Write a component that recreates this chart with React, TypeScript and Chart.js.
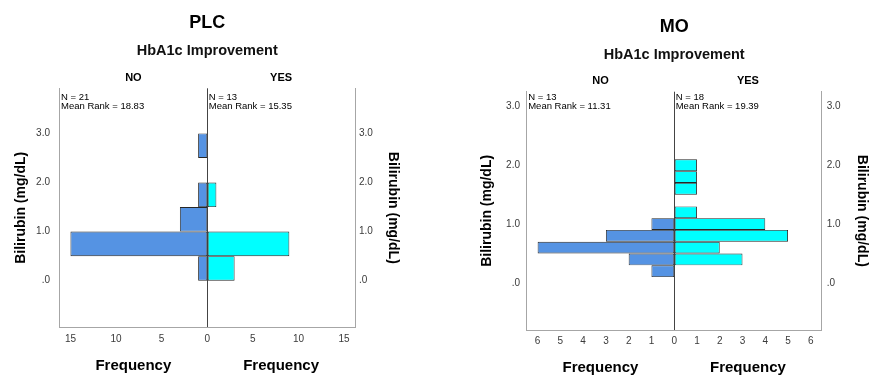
import React, { useEffect, useRef } from 'react';
import { Chart, registerables } from 'chart.js';

Chart.register(...registerables);

const FONT = "'Liberation Sans', Arial, Helvetica, sans-serif";

// ---- shared labels ----
const groups = ['NO', 'YES'];
const yTickValues = [0, 1, 2, 3];
const yTitle = 'Bilirubin (mg/dL)';
const xTitle = 'Frequency';
const subTitle = 'HbA1c Improvement';

// ---- PLC panel ----
const plcBins = [0.25, 0.75, 1.25, 1.75, 2.25, 2.75];
const plcNo = [1, 15, 3, 1, 0, 1];
const plcYes = [3, 9, 0, 1, 0, 0];
const plcFreqTicks = [0, 5, 10, 15];
const plcStatsNo = ['N = 21', 'Mean Rank = 18.83'];
const plcStatsYes = ['N = 13', 'Mean Rank = 15.35'];

// ---- MO panel ----
const moBins = [0.2, 0.4, 0.6, 0.8, 1.0, 1.2, 1.4, 1.6, 1.8, 2.0];
const moNo = [1, 2, 6, 3, 1, 0, 0, 0, 0, 0];
const moYes = [0, 3, 2, 5, 4, 1, 0, 1, 1, 1];
const moFreqTicks = [0, 1, 2, 3, 4, 5, 6];
const moStatsNo = ['N = 13', 'Mean Rank = 11.31'];
const moStatsYes = ['N = 18', 'Mean Rank = 19.39'];

const BLUE = '#5593e3';
const CYAN = '#00ffff';
const BAR_EDGE = '#262626';
const FRAME = '#a6a6a6';
const CENTER = '#444444';
const TICK = '#3a3a3a';

const panels = [
  {
    key: 'plc', title: 'PLC', left: 0, width: 430,
    bins: plcBins, no: plcNo, yes: plcYes, freqTicks: plcFreqTicks,
    stats: [plcStatsNo, plcStatsYes],
    xMax: 16.2, yMin: -0.95, yMax: 3.92,
    padLeft: 0, padRight: 28.5, leftAxisW: 59.5, rightAxisW: 46.5,
    leftTitlePad: 14, rightTitlePad: 2, leftTickPad: 9.5, rightTickPad: 4,
    titlePadTop: 12.3, subPadTop: 8.4, topAxisH: 28.6, groupPadTop: 11.7,
    bottomAxisH: 48.7, xTickPad: 6, xTitlePadBottom: 2.2, statsTop: 11.5,
  },
  {
    key: 'mo', title: 'MO', left: 430, width: 439,
    bins: moBins, no: moNo, yes: moYes, freqTicks: moFreqTicks,
    stats: [moStatsNo, moStatsYes],
    xMax: 6.48, yMin: -0.8, yMax: 3.25,
    padLeft: 50, padRight: 0, leftAxisW: 46.7, rightAxisW: 47.3,
    leftTitlePad: 0.5, rightTitlePad: 0.3, leftTickPad: 6.7, rightTickPad: 5,
    titlePadTop: 16.3, subPadTop: 8.4, topAxisH: 28, groupPadTop: 10.9,
    bottomAxisH: 46, xTickPad: 5.7, xTitlePadBottom: 0.5, statsTop: 8,
  },
];

function Panel({ cfg }: { cfg: any }) {
  const ref = useRef<HTMLCanvasElement>(null);

  useEffect(() => {
    const c = cfg;
    const mk = (vals: number[]) => c.bins.map((b: number, i: number) => ({ x: vals[i] === 0 ? null : vals[i], y: b }));
    const setFreqTicks = (axis: any) => { axis.ticks = c.freqTicks.map((v: number) => ({ value: v })); };
    const setYTicks = (axis: any) => { axis.ticks = yTickValues.map((v) => ({ value: v })); };
    const yFmt = (v: any) => (Number(v) === 0 ? '.0' : Number(v).toFixed(1));
    const tickFont = { family: FONT, size: 10 };

    const statsPlugin = {
      id: 'stats_' + c.key,
      afterDraw(chart: any) {
        const { ctx, chartArea } = chart;
        const lefts = [chart.scales.xNo.left, chart.scales.xYes.left];
        ctx.save();
        ctx.font = `9.5px ${FONT}`;
        ctx.fillStyle = '#000';
        ctx.textAlign = 'left';
        ctx.textBaseline = 'alphabetic';
        lefts.forEach((lx: number, i: number) => {
          c.stats[i].forEach((line: string, j: number) => {
            ctx.fillText(line, lx + 1.5, chartArea.top + c.statsTop + j * 9);
          });
        });
        ctx.restore();
      },
    };

    const barCommon = {
      grouped: false,
      categoryPercentage: 1,
      barPercentage: 1,
      borderWidth: 0.9,
      borderColor: BAR_EDGE,
      borderSkipped: false,
      inflateAmount: 0,
    };

    const xBottom = (reverse: boolean, showZero: boolean, centerLine: boolean) => ({
      type: 'linear',
      axis: 'x',
      position: 'bottom',
      stack: 'bottom',
      reverse,
      offset: false,
      min: 0,
      max: c.xMax,
      afterBuildTicks: setFreqTicks,
      afterFit: (s: any) => { s.height = c.bottomAxisH; },
      ticks: {
        autoSkip: false,
        maxRotation: 0,
        padding: c.xTickPad,
        color: TICK,
        font: tickFont,
        callback: (v: any) => (!showZero && Number(v) === 0 ? '' : String(v)),
      },
      grid: {
        display: centerLine,
        drawTicks: false,
        offset: false,
        lineWidth: 1,
        color: (ctx: any) => (ctx.tick && ctx.tick.value === 0 ? CENTER : 'rgba(0,0,0,0)'),
      },
      border: { display: true, color: FRAME, width: 1 },
      title: {
        display: true,
        text: xTitle,
        color: '#000',
        font: { family: FONT, size: 15, weight: 'bold', lineHeight: 1 },
        padding: { top: 0, bottom: c.xTitlePadBottom },
      },
    });

    const xTop = (label: string) => ({
      type: 'linear',
      axis: 'x',
      position: 'top',
      stack: 'top',
      offset: false,
      min: 0,
      max: 1,
      afterFit: (s: any) => { s.height = c.topAxisH; },
      ticks: { display: false },
      grid: { display: false, drawTicks: false },
      border: { display: false },
      title: {
        display: true,
        text: label,
        color: '#000',
        font: { family: FONT, size: 11, weight: 'bold', lineHeight: 1.2 },
        padding: { top: c.groupPadTop, bottom: 0 },
      },
    });

    const yAxis = (position: string, width: number, tickPad: number, titlePad: number) => ({
      type: 'linear',
      axis: 'y',
      position,
      offset: false,
      min: c.yMin,
      max: c.yMax,
      afterBuildTicks: setYTicks,
      afterFit: (s: any) => { s.width = width; },
      ticks: { autoSkip: false, padding: tickPad, color: TICK, font: tickFont, callback: yFmt },
      grid: { display: false, drawTicks: false, offset: false },
      border: { display: true, color: FRAME, width: 1 },
      title: {
        display: true,
        text: yTitle,
        color: '#000',
        font: { family: FONT, size: 14, weight: 'bold', lineHeight: 1 },
        padding: { top: titlePad, bottom: 0 },
      },
    });

    const chart = new Chart(ref.current as HTMLCanvasElement, {
      type: 'bar',
      data: {
        datasets: [
          { label: groups[0], data: mk(c.no), xAxisID: 'xNo', yAxisID: 'y', backgroundColor: BLUE, ...barCommon },
          { label: groups[1], data: mk(c.yes), xAxisID: 'xYes', yAxisID: 'y', backgroundColor: CYAN, ...barCommon },
        ],
      } as any,
      options: {
        animation: false,
        responsive: false,
        maintainAspectRatio: false,
        indexAxis: 'y',
        layout: { padding: { left: c.padLeft, right: c.padRight, top: 0, bottom: 0 } },
        plugins: {
          legend: { display: false },
          tooltip: { enabled: false },
          title: {
            display: true,
            text: c.title,
            fullSize: false,
            color: '#000',
            font: { family: FONT, size: 18, weight: 'bold', lineHeight: 1.2 },
            padding: { top: c.titlePadTop, bottom: 0 },
          },
          subtitle: {
            display: true,
            text: subTitle,
            fullSize: false,
            color: '#111',
            font: { family: FONT, size: 14.5, weight: 'bold', lineHeight: 1.2 },
            padding: { top: c.subPadTop, bottom: 0 },
          },
        },
        scales: {
          xNo: xBottom(true, false, false),
          xYes: xBottom(false, true, true),
          // top boxes are laid out in reverse order: YES first puts NO on the left
          xYesTop: xTop(groups[1]),
          xNoTop: xTop(groups[0]),
          y: yAxis('left', c.leftAxisW, c.leftTickPad, c.leftTitlePad),
          yRight: yAxis('right', c.rightAxisW, c.rightTickPad, c.rightTitlePad),
        },
      } as any,
      plugins: [statsPlugin],
    });
    return () => chart.destroy();
  }, [cfg]);

  return (
    <canvas
      ref={ref}
      width={cfg.width}
      height={376}
      style={{ position: 'absolute', left: cfg.left, top: 0, width: cfg.width, height: 376 }}
    />
  );
}

export default function App() {
  return (
    <div style={{ position: 'absolute', left: 0, top: 0, width: 869, height: 376, background: '#fff', overflow: 'hidden' }}>
      {panels.map((p) => (
        <Panel key={p.key} cfg={p} />
      ))}
    </div>
  );
}
